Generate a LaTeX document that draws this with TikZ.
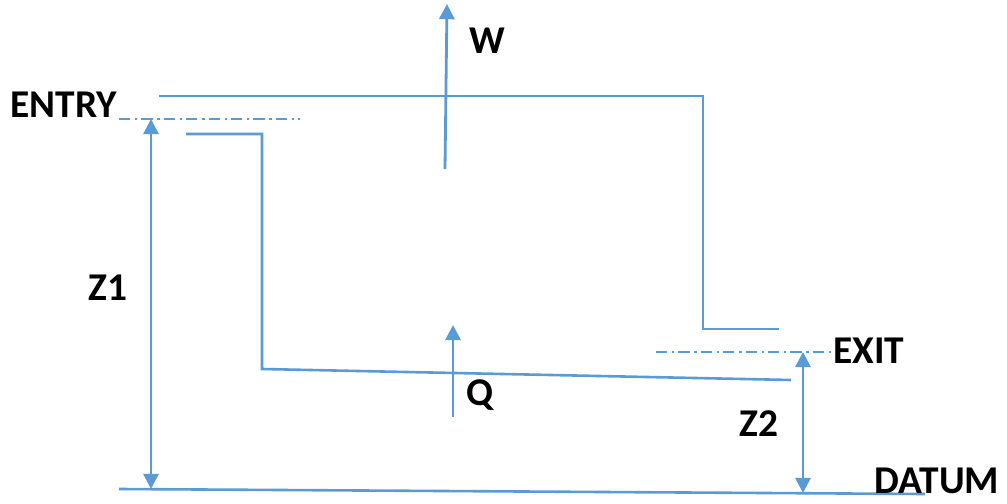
\documentclass[tikz,border=0pt]{standalone}
\usepackage{fontspec}
\setmainfont{Carlito}
\usepackage{tikz}
\usetikzlibrary{arrows.meta}
\definecolor{lineblue}{RGB}{91,155,213}
\tikzset{
    pipe/.style={draw=lineblue, line width=0.065cm},
    level/.style={draw=lineblue, line width=0.05cm, dash pattern=on 0.28cm off 0.12cm on 0.06cm off 0.1cm},
    flow/.style={draw=lineblue, line width=0.07cm, -{Triangle[length=0.38cm,width=0.38cm]}},
    dim/.style={draw=lineblue, line width=0.07cm, {Triangle[length=0.38cm,width=0.38cm]}-{Triangle[length=0.38cm,width=0.38cm]}},
    lab/.style={font=\fontsize{28}{33}\selectfont\bfseries, text=black, inner sep=0pt}
}
\begin{document}
\begin{tikzpicture}[x=0.025cm,y=-0.025cm]
    \useasboundingbox (0,0) rectangle (1007,504);
    % end points
    \coordinate (ua) at (159,96);
    \coordinate (ub) at (703,96);
    \coordinate (uc) at (703,329);
    \coordinate (ud) at (779,329);
    \coordinate (la) at (186,134);
    \coordinate (lb) at (262,134);
    \coordinate (lc) at (262,369);
    \coordinate (ld) at (791,380);
    \coordinate (ea) at (119,119);
    \coordinate (eb) at (300,119);
    \coordinate (xa) at (656,352);
    \coordinate (xb) at (835,352);
    \coordinate (da) at (119,489);
    \coordinate (db) at (925,494);
    \coordinate (wa) at (445,169);
    \coordinate (wb) at (447,4);
    \coordinate (qa) at (453,417);
    \coordinate (qb) at (453,325);
    \coordinate (za) at (151,119);
    \coordinate (zb) at (151,489);
    \coordinate (zc) at (803,352);
    \coordinate (zd) at (803,493);
    % walls
    \draw[pipe] (ua) -- (ub) -- (uc) -- (ud);
    \draw[pipe] (la) -- (lb) -- (lc) -- (ld);
    \draw[pipe] (da) -- (db);
    % levels
    \draw[level] (ea) -- (eb);
    \draw[level] (xa) -- (xb);
    % arrows
    \draw[flow] (wa) -- (wb);
    \draw[flow] (qa) -- (qb);
    \draw[dim] (za) -- (zb);
    \draw[dim] (zc) -- (zd);
    % labels
    \node[lab] (entry) at (64,105) {ENTRY};
    \node[lab] (exit) at (869,351) {EXIT};
    \node[lab] (datum) at (937,481) {DATUM};
    \node[lab] (zone) at (108,288) {Z1};
    \node[lab] (ztwo) at (759,424) {Z2};
    \node[lab] (work) at (487,41) {W};
    \node[lab] (heat) at (480,395) {Q};
\end{tikzpicture}
\end{document}
